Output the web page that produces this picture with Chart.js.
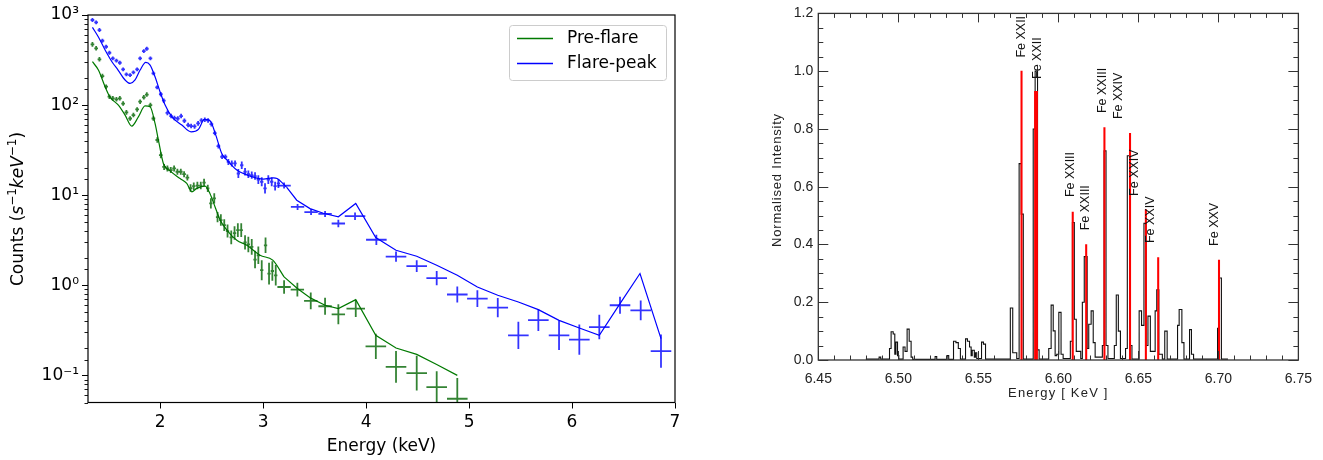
<!DOCTYPE html>
<html>
<head>
<meta charset="utf-8">
<script src="https://cdn.jsdelivr.net/npm/chart.js@4.4.1/dist/chart.umd.min.js"></script>
<style>
    body { margin: 0; background: #fff; width: 1323px; height: 460px; overflow: hidden; position: relative; }
    #leftPanel { position: absolute; left: 0; top: 0; width: 700px; height: 460px; }
    #rightPanel { position: absolute; left: 690px; top: 0; width: 633px; height: 460px; }
</style>
</head>
<body>
<div id="leftPanel"><canvas id="spectrumChart"></canvas></div>
<div id="rightPanel"><canvas id="lineChart"></canvas></div>
<script>
// ---- left panel: pre-flare / flare-peak spectra (keV, counts s^-1 keV^-1) ----
const energyTicks = [2, 3, 4, 5, 6, 7];

const blueE = [1.343,1.379,1.411,1.440,1.476,1.508,1.541,1.576,1.609,1.641,
    1.673,1.709,1.741,1.777,1.806,1.842,1.871,1.906,1.935,1.971,
    2.007,2.036,2.071,2.107,2.139,2.172,2.204,2.236,2.272,2.301,
    2.335,2.369,2.401,2.434,2.466,2.498,2.531,2.566,2.602,2.634,
    2.663,2.696,2.728,2.760,2.793,2.825,2.857,2.890,2.922,2.954,
    2.987,3.019,3.051,3.084,3.117,3.149,3.204,3.335,3.466,3.602,
    3.731,3.893,4.100,4.291,4.492,4.686,4.886,5.081,5.279,5.479,
    5.673,5.874,6.071,6.265,6.466,6.667,6.864];
const blueCounts = [880,830,681,518,444,381,330,311,295,249,
    219,215,231,249,330,398,422,330,225,157,
    132,112,82,75.5,72,71,75.5,67,60,58.5,
    58,62.7,67.6,68.7,67.6,61.5,48.9,35,26.7,26.7,
    23.4,22.5,22.5,17.4,21.5,18.2,17.1,16.7,16.3,14.9,
    14.1,11.9,14.9,14.1,12.6,13.5,12.8,7.4,6.5,6.2,
    4.85,5.85,3.2,2.08,1.63,1.2,0.79,0.71,0.565,0.278,
    0.41,0.278,0.249,0.344,0.6,0.527,0.186];
const blueErrE = [0.018,0.018,0.018,0.018,0.018,0.018,0.018,0.018,0.018,0.018,
    0.018,0.018,0.018,0.018,0.018,0.018,0.018,0.018,0.018,0.018,
    0.018,0.018,0.018,0.018,0.018,0.018,0.018,0.018,0.018,0.018,
    0.018,0.018,0.018,0.018,0.018,0.018,0.018,0.018,0.018,0.018,
    0.016,0.016,0.016,0.016,0.016,0.016,0.016,0.016,0.016,0.016,
    0.016,0.016,0.016,0.016,0.016,0.016,0.065,0.065,0.065,0.065,
    0.065,0.1,0.1,0.1,0.1,0.1,0.1,0.1,0.1,0.1,
    0.1,0.1,0.1,0.1,0.1,0.1,0.1];
const blueErrFactor = [1.05,1.05,1.05,1.05,1.05,1.05,1.05,1.05,1.05,1.05,
    1.05,1.05,1.05,1.05,1.05,1.05,1.05,1.05,1.05,1.05,
    1.06,1.06,1.06,1.06,1.06,1.06,1.06,1.06,1.06,1.06,
    1.06,1.06,1.06,1.06,1.06,1.06,1.06,1.06,1.06,1.06,
    1.08,1.08,1.08,1.12,1.1,1.1,1.1,1.1,1.1,1.12,
    1.12,1.14,1.12,1.12,1.12,1.12,1.08,1.08,1.08,1.08,
    1.1,1.1,1.14,1.14,1.16,1.2,1.23,1.24,1.28,1.42,
    1.32,1.45,1.47,1.37,1.24,1.29,1.53];

const greenE = [1.343,1.379,1.411,1.440,1.476,1.508,1.541,1.576,1.609,1.641,
    1.673,1.709,1.741,1.777,1.806,1.842,1.871,1.906,1.935,1.973,
    2.007,2.039,2.071,2.104,2.136,2.168,2.201,2.233,2.265,2.296,
    2.327,2.362,2.395,2.427,2.463,2.493,2.526,2.558,2.590,2.623,
    2.655,2.691,2.723,2.755,2.788,2.825,2.857,2.890,2.922,2.954,
    2.987,3.024,3.058,3.090,3.123,3.204,3.333,3.463,3.602,3.731,
    3.900,4.095,4.291,4.492,4.686,4.886];
const greenCounts = [472,427,322,210,160,124,119,116,119,104,
    83,71,77.5,89.5,109,122,131,100,71,41,
    27.8,20.6,19.8,19,19.8,18.2,18.2,17.1,15.7,12,
    12.6,12.8,12.8,13.8,11.9,8.1,9.2,5.7,5.3,4.65,
    4.0,3.4,3.8,4.1,4.1,3.0,2.84,2.67,1.93,2.15,
    1.47,2.78,1.35,1.44,1.29,0.957,0.895,0.67,0.585,0.476,
    0.551,0.21,0.124,0.106,0.074,0.055];
const greenErrE = [0.018,0.018,0.018,0.018,0.018,0.018,0.018,0.018,0.018,0.018,
    0.018,0.018,0.018,0.018,0.018,0.018,0.018,0.018,0.018,0.018,
    0.018,0.018,0.018,0.018,0.018,0.018,0.018,0.018,0.018,0.018,
    0.016,0.016,0.016,0.016,0.016,0.016,0.016,0.016,0.016,0.016,
    0.016,0.016,0.016,0.016,0.016,0.016,0.016,0.016,0.016,0.016,
    0.016,0.016,0.016,0.016,0.016,0.065,0.065,0.065,0.065,0.065,
    0.09,0.1,0.1,0.1,0.1,0.1];
const greenErrFactor = [1.06,1.06,1.06,1.06,1.06,1.06,1.06,1.06,1.06,1.06,
    1.06,1.06,1.06,1.06,1.06,1.06,1.06,1.06,1.06,1.07,
    1.08,1.08,1.08,1.08,1.08,1.08,1.08,1.08,1.08,1.1,
    1.1,1.1,1.1,1.1,1.1,1.14,1.14,1.14,1.16,1.16,
    1.18,1.19,1.19,1.19,1.19,1.2,1.22,1.22,1.25,1.25,
    1.29,1.22,1.32,1.28,1.3,1.19,1.19,1.24,1.24,1.29,
    1.24,1.38,1.5,1.56,1.5,1.7];

const blueModelE = [1.343,1.401,1.466,1.534,1.592,1.660,1.709,1.757,1.806,1.861,
    1.903,1.951,2.000,2.049,2.114,2.211,2.301,2.372,2.430,2.485,
    2.541,2.599,2.641,2.745,2.874,3.003,3.100,3.136,3.230,3.327,
    3.456,3.585,3.731,3.900,4.094,4.291,4.492,4.686,4.886,5.081,
    5.279,5.479,5.673,5.874,6.071,6.265,6.466,6.660,6.864];
const blueModel = [730,570,409,301,245,190,174,190,245,298,
    278,206,140,100,74,60,50.5,53.7,69.3,67,
    46.4,29,25.1,19,16.3,15.1,15.6,15.3,12.2,8.8,
    7.1,6.3,5.75,8.1,3.39,2.45,2.1,1.67,1.29,0.957,
    0.774,0.652,0.537,0.408,0.336,0.278,0.626,1.35,0.256];

const greenModelE = [1.343,1.401,1.466,1.515,1.595,1.660,1.725,1.789,1.854,1.903,
    1.951,1.990,2.032,2.097,2.194,2.259,2.308,2.356,2.437,2.485,
    2.534,2.583,2.648,2.745,2.842,2.971,3.094,3.204,3.333,3.463,
    3.602,3.731,3.900,4.094,4.291,4.492,4.686,4.886];
const greenModel = [303,245,160,122,100,77.5,58.5,74,98,96,
    62.7,37.5,22.5,18.6,15.3,13.5,10.9,11.9,12.6,10.4,
    7.4,5.3,4.1,3.16,2.78,2.15,1.9,1.24,0.92,0.72,
    0.6,0.551,0.693,0.278,0.201,0.171,0.132,0.1];

// ---- right panel: normalised Fe line spectrum ----
const lineXTicks = [6.45, 6.50, 6.55, 6.60, 6.65, 6.70, 6.75];
const lineYTicks = [0.0, 0.2, 0.4, 0.6, 0.8, 1.0, 1.2];

// histogram: left bin edge (keV) and level, level holds until the next edge
const histE = [6.4797,6.4880,6.4890,6.4945,6.4955,6.4968,6.4978,6.4985,6.4995,6.5003,
    6.5030,6.5042,6.5055,6.5068,6.5080,6.5090,6.5230,6.5240,6.5305,6.5315,
    6.5345,6.5360,6.5375,6.5388,6.5420,6.5432,6.5445,6.5455,6.5462,6.5475,
    6.5482,6.5490,6.5520,6.5532,6.5545,6.5700,6.5715,6.5740,6.5755,6.5768,
    6.5781,6.5843,6.5855,6.5870,6.5880,6.5940,6.5955,6.5968,6.5980,6.5990,
    6.6003,6.6017,6.6030,6.6075,6.6088,6.6100,6.6112,6.6125,6.6140,6.6150,
    6.6162,6.6180,6.6190,6.6205,6.6218,6.6230,6.6275,6.6286,6.6298,6.6310,
    6.6350,6.6362,6.6375,6.6388,6.6420,6.6431,6.6445,6.6460,6.6505,6.6520,
    6.6535,6.6548,6.6560,6.6575,6.6605,6.6615,6.6628,6.6650,6.6665,6.6680,
    6.6745,6.6755,6.6772,6.6785,6.6820,6.6832,6.6845,6.6995,6.7002,6.7019,
    6.7060];
const histI = [0.003,0.01,0.003,0.04,0.098,0.09,0.02,0.062,0.015,0.003,
    0.045,0.03,0.107,0.065,0.01,0.002,0.012,0.002,0.015,0.002,
    0.065,0.06,0.04,0.003,0.073,0.065,0.045,0.015,0.034,0.01,
    0.025,0.005,0.062,0.055,0.003,0.18,0.025,0.005,0.68,0.505,
    0.003,0.80,1.0,0.035,0.003,0.04,0.19,0.101,0.015,0.02,
    0.165,0.02,0.005,0.065,0.476,0.141,0.03,0.03,0.005,0.2,
    0.358,0.04,0.124,0.17,0.06,0.01,0.05,0.724,0.05,0.005,
    0.05,0.225,0.1,0.005,0.04,0.707,0.05,0.003,0.17,0.12,
    0.473,0.05,0.152,0.03,0.17,0.243,0.02,0.003,0.1,0.003,
    0.12,0.175,0.06,0.003,0.105,0.02,0.003,0.11,0.284,0.003,
    0.003];

const redE = [6.5770, 6.5855, 6.5866, 6.6090, 6.6174, 6.6288, 6.6448, 6.6547, 6.6624, 6.7004];
const redI = [1.0, 0.93, 0.93, 0.512, 0.40, 0.805, 0.785, 0.521, 0.355, 0.346];

const ionNames = ['Fe XXII', 'Fe XXII', 'Fe XXIII', 'Fe XXIII', 'Fe XXIII', 'Fe XXIV', 'Fe XXIV', 'Fe XXIV', 'Fe XXV'];
const ionE = [6.5769, 6.5869, 6.6078, 6.6172, 6.6275, 6.6379, 6.6479, 6.6577, 6.6977];
const ionY = [1.047, 0.973, 0.564, 0.449, 0.855, 0.834, 0.568, 0.405, 0.395];

const zip = (xs, ys) => xs.map((x, i) => ({ x, y: ys[i] }));
// model curve: smooth below the split energy, straight segments above it
const SPLIT_LO = 3.25, SPLIT_HI = 3.2;
const lowPart = pts => pts.filter(p => p.x <= SPLIT_LO);
const highPart = pts => pts.filter(p => p.x >= SPLIT_HI);
const SUP = { '-': '\u207B', '0': '\u2070', '1': '\u00B9', '2': '\u00B2', '3': '\u00B3' };
const isDecade = v => Math.abs(Math.log10(v) - Math.round(Math.log10(v))) < 1e-6;

const errorBars = {
    id: 'errorBars',
    afterDatasetsDraw(chart) {
        const { ctx, chartArea, scales: { x, y } } = chart;
        ctx.save();
        ctx.beginPath();
        ctx.rect(chartArea.left, chartArea.top, chartArea.width, chartArea.height);
        ctx.clip();
        chart.data.datasets.forEach(ds => {
            if (!ds.errE) return;
            ctx.strokeStyle = ds.barColor;
            ctx.lineWidth = 1.8;
            ds.data.forEach((p, i) => {
                const px = x.getPixelForValue(p.x);
                const py = y.getPixelForValue(p.y);
                ctx.beginPath();
                ctx.moveTo(x.getPixelForValue(p.x - ds.errE[i]), py);
                ctx.lineTo(x.getPixelForValue(p.x + ds.errE[i]), py);
                ctx.moveTo(px, y.getPixelForValue(p.y / ds.errF[i]));
                ctx.lineTo(px, y.getPixelForValue(p.y * ds.errF[i]));
                ctx.stroke();
            });
        });
        ctx.restore();
    }
};

const spectrumDecor = {
    id: 'spectrumDecor',
    afterDraw(chart) {
        const { ctx, chartArea: a, scales: { y } } = chart;
        ctx.save();
        // frame
        ctx.strokeStyle = '#000';
        ctx.lineWidth = 1.2;
        ctx.strokeRect(a.left, a.top, a.width, a.height);
        // minor log ticks
        ctx.lineWidth = 0.9;
        y.ticks.forEach(t => {
            if (isDecade(t.value)) return;
            const py = Math.round(y.getPixelForValue(t.value)) + 0.5;
            ctx.beginPath();
            ctx.moveTo(a.left, py);
            ctx.lineTo(a.left - 3.5, py);
            ctx.stroke();
        });
        // axis titles
        ctx.fillStyle = '#000';
        ctx.textAlign = 'center';
        ctx.textBaseline = 'middle';
        ctx.font = '17px "DejaVu Sans"';
        ctx.fillText('Energy (keV)', (a.left + a.right) / 2, 447);

        const parts = [
            ['Counts (', '17px "DejaVu Sans"', 0],
            ['s', 'italic 17px "DejaVu Sans"', 0],
            ['\u22121', '12px "DejaVu Sans"', -7],
            ['keV', 'italic 17px "DejaVu Sans"', 0],
            ['\u22121', '12px "DejaVu Sans"', -7],
            [')', '17px "DejaVu Sans"', 0]
        ];
        let total = 0;
        parts.forEach(p => { ctx.font = p[1]; total += ctx.measureText(p[0]).width; });
        ctx.translate(17, 209);
        ctx.rotate(-Math.PI / 2);
        ctx.textAlign = 'left';
        ctx.textBaseline = 'alphabetic';
        let cx = -total / 2;
        parts.forEach(p => {
            ctx.font = p[1];
            ctx.fillText(p[0], cx, 6 + p[2]);
            cx += ctx.measureText(p[0]).width;
        });
        ctx.restore();

        // legend
        ctx.save();
        const lx = 509.5, ly = 25.5, lw = 157, lh = 55;
        ctx.fillStyle = 'rgba(255,255,255,0.8)';
        ctx.strokeStyle = '#cccccc';
        ctx.lineWidth = 1;
        ctx.beginPath();
        ctx.roundRect(lx, ly, lw, lh, 3);
        ctx.fill();
        ctx.stroke();
        ctx.font = '17px "DejaVu Sans"';
        ctx.textBaseline = 'middle';
        ctx.textAlign = 'left';
        chart.data.datasets.filter(ds => ds.inLegend).forEach((ds, i) => {
            const yy = 38.5 + i * 25;
            ctx.strokeStyle = ds.borderColor;
            ctx.lineWidth = 1.3;
            ctx.beginPath();
            ctx.moveTo(517, yy);
            ctx.lineTo(553, yy);
            ctx.stroke();
            ctx.fillStyle = '#000';
            ctx.fillText(ds.label, 567, yy);
        });
        ctx.restore();
    }
};

const greenModelPts = zip(greenModelE, greenModel);
const blueModelPts = zip(blueModelE, blueModel);

new Chart(document.getElementById('spectrumChart'), {
    type: 'line',
    data: {
        datasets: [
            { label: 'Pre-flare', data: lowPart(greenModelPts), borderColor: '#007a00', borderWidth: 1.2,
              pointRadius: 0, cubicInterpolationMode: 'monotone', inLegend: true },
            { label: 'Flare-peak', data: lowPart(blueModelPts), borderColor: '#0000ff', borderWidth: 1.2,
              pointRadius: 0, cubicInterpolationMode: 'monotone', inLegend: true },
            { label: 'Pre-flare (high E)', data: highPart(greenModelPts), borderColor: '#007a00', borderWidth: 1.2,
              pointRadius: 0, tension: 0 },
            { label: 'Flare-peak (high E)', data: highPart(blueModelPts), borderColor: '#0000ff', borderWidth: 1.2,
              pointRadius: 0, tension: 0 },
            { label: 'Pre-flare data', data: zip(greenE, greenCounts), showLine: false, pointRadius: 0,
              errE: greenErrE, errF: greenErrFactor, barColor: 'rgba(0,100,0,0.8)' },
            { label: 'Flare-peak data', data: zip(blueE, blueCounts), showLine: false, pointRadius: 0,
              errE: blueErrE, errF: blueErrFactor, barColor: 'rgba(0,0,255,0.8)' }
        ]
    },
    options: {
        responsive: true,
        maintainAspectRatio: false,
        animation: false,
        layout: { padding: { top: 15, right: 25, left: 0, bottom: 0 } },
        plugins: { legend: { display: false }, tooltip: { enabled: false } },
        scales: {
            x: {
                type: 'linear', min: 1.3, max: 7,
                afterBuildTicks: s => { s.ticks = energyTicks.map(v => ({ value: v })); },
                afterFit: s => { s.height = 57.5; },
                ticks: { color: '#000', font: { family: 'DejaVu Sans', size: 17 }, padding: 4,
                         autoSkip: false, maxRotation: 0, callback: v => String(v) },
                grid: { drawOnChartArea: false, tickLength: 6, tickColor: '#000', tickWidth: 1 },
                border: { display: false }
            },
            y: {
                type: 'logarithmic', min: 0.05, max: 1000,
                afterFit: s => { s.width = 88; },
                ticks: {
                    color: '#000', font: { family: 'DejaVu Sans', size: 17 }, padding: 3, autoSkip: false,
                    callback: v => {
                        if (!isDecade(v)) return '';
                        const e = String(Math.round(Math.log10(v)));
                        return '10' + e.split('').map(c => SUP[c]).join('');
                    }
                },
                grid: { drawOnChartArea: false, tickLength: 6, tickWidth: 1,
                        tickColor: c => (c.tick && isDecade(c.tick.value)) ? '#000' : 'rgba(0,0,0,0)' },
                border: { display: false }
            }
        }
    },
    plugins: [errorBars, spectrumDecor]
});

const lineDecor = {
    id: 'lineDecor',
    afterDraw(chart) {
        const { ctx, chartArea: a, scales: { x, y } } = chart;
        ctx.save();
        ctx.strokeStyle = '#333';
        ctx.lineWidth = 1.3;
        ctx.strokeRect(a.left, a.top, a.width, a.height);
        ctx.lineWidth = 1;
        // inward ticks on all four sides
        for (let i = 0; i < lineXTicks.length; i++) {
            for (let k = 0; k < 5; k++) {
                if (i === lineXTicks.length - 1 && k > 0) break;
                const v = lineXTicks[i] + k * 0.01;
                const px = Math.round(x.getPixelForValue(v)) + 0.5;
                const len = k === 0 ? 9 : 4.5;
                ctx.beginPath();
                ctx.moveTo(px, a.bottom); ctx.lineTo(px, a.bottom - len);
                ctx.moveTo(px, a.top); ctx.lineTo(px, a.top + len);
                ctx.stroke();
            }
        }
        for (let i = 0; i < lineYTicks.length; i++) {
            for (let k = 0; k < 4; k++) {
                if (i === lineYTicks.length - 1 && k > 0) break;
                const v = lineYTicks[i] + k * 0.05;
                const py = Math.round(y.getPixelForValue(v)) + 0.5;
                const len = k === 0 ? 10 : 5;
                ctx.beginPath();
                ctx.moveTo(a.left, py); ctx.lineTo(a.left + len, py);
                ctx.moveTo(a.right, py); ctx.lineTo(a.right - len, py);
                ctx.stroke();
            }
        }
        // ion labels
        ctx.fillStyle = '#111';
        ctx.font = '12.5px "Liberation Sans"';
        ctx.textAlign = 'left';
        ctx.textBaseline = 'middle';
        ionNames.forEach((name, i) => {
            ctx.save();
            ctx.translate(x.getPixelForValue(ionE[i]), y.getPixelForValue(ionY[i]));
            ctx.rotate(-Math.PI / 2);
            ctx.fillText(name, 0, 0);
            ctx.restore();
        });
        // axis titles
        ctx.fillStyle = '#222';
        ctx.font = '13px "Liberation Sans"';
        ctx.letterSpacing = '1.2px';
        ctx.textAlign = 'center';
        ctx.fillText('Energy [ KeV ]', (a.left + a.right) / 2, 393);
        ctx.letterSpacing = '0.8px';
        ctx.translate(87, 180);
        ctx.rotate(-Math.PI / 2);
        ctx.fillText('Normalised Intensity', 0, 0);
        ctx.restore();
    }
};

new Chart(document.getElementById('lineChart'), {
    type: 'line',
    data: {
        datasets: [
            { type: 'bar', label: 'Model lines', data: zip(redE, redI), backgroundColor: '#ff0000',
              barThickness: 1.4, borderWidth: 0 },
            { label: 'Spectrum', data: zip(histE, histI), stepped: true, borderColor: '#111',
              borderWidth: 1.1, pointRadius: 0, fill: false }
        ]
    },
    options: {
        responsive: true,
        maintainAspectRatio: false,
        animation: false,
        layout: { padding: { top: 4.5, right: 23, left: 0, bottom: 0 } },
        plugins: { legend: { display: false }, tooltip: { enabled: false } },
        scales: {
            x: {
                type: 'linear', min: 6.45, max: 6.75, offset: false,
                afterBuildTicks: s => { s.ticks = lineXTicks.map(v => ({ value: v })); },
                afterFit: s => { s.height = 100; },
                ticks: { color: '#222', font: { family: 'Liberation Sans', size: 14 }, padding: 11,
                         autoSkip: false, maxRotation: 0, callback: v => v.toFixed(2) },
                grid: { display: false, drawTicks: false },
                border: { display: false }
            },
            y: {
                type: 'linear', min: 0, max: 1.2,
                afterBuildTicks: s => { s.ticks = lineYTicks.map(v => ({ value: v })); },
                afterFit: s => { s.width = 128.3; },
                ticks: { color: '#222', font: { family: 'Liberation Sans', size: 14 }, padding: 5,
                         autoSkip: false, callback: v => v.toFixed(1) },
                grid: { display: false, drawTicks: false },
                border: { display: false }
            }
        }
    },
    plugins: [lineDecor]
});
</script>
</body>
</html>
